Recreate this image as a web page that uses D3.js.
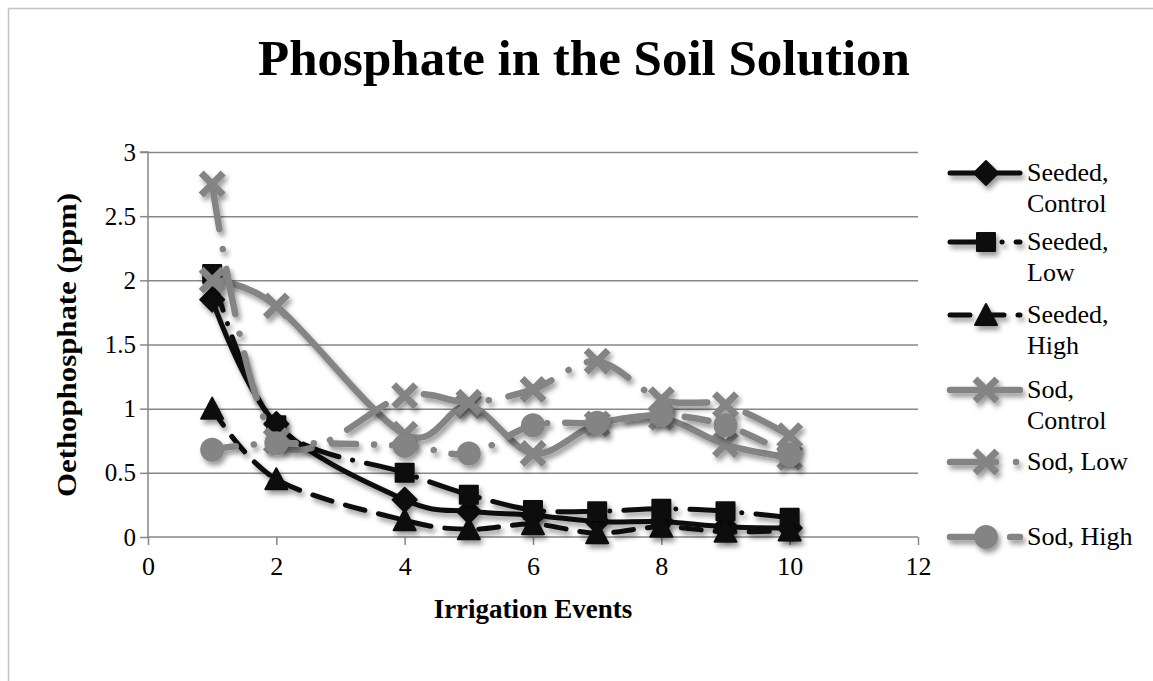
<!DOCTYPE html>
<html>
<head>
<meta charset="utf-8">
<script src="https://cdn.jsdelivr.net/npm/d3@7"></script>
<style>
  html, body { margin: 0; padding: 0; background: #fff; }
  svg { display: block; }
  text { font-family: "Liberation Serif", "Times New Roman", serif; fill: #000; }
</style>
</head>
<body>
<svg id="chart" width="1153" height="681"></svg>
<script>
// ---- data ----
const events = [1, 2, 4, 5, 6, 7, 8, 9, 10];
const seededControl = [1.85, 0.88, 0.29, 0.20, 0.17, 0.12, 0.12, 0.08, 0.07];
const seededLow     = [2.05, 0.87, 0.50, 0.33, 0.21, 0.20, 0.22, 0.20, 0.15];
const seededHigh    = [1.00, 0.45, 0.13, 0.06, 0.10, 0.03, 0.08, 0.04, 0.05];
const sodControl    = [2.00, 1.80, 0.80, 1.02, 0.65, 0.88, 0.93, 0.72, 0.62];
const sodLow        = [2.75, 0.75, 1.10, 1.05, 1.15, 1.37, 1.07, 1.03, 0.79];
const sodHigh       = [0.68, 0.73, 0.71, 0.65, 0.87, 0.89, 0.95, 0.87, 0.64];
const seriesNames = [["Seeded,", "Control"], ["Seeded,", "Low"], ["Seeded,", "High"],
                     ["Sod,", "Control"], ["Sod, Low"], ["Sod, High"]];
const xTicks = [0, 2, 4, 6, 8, 10, 12];
const yTicks = [0, 0.5, 1, 1.5, 2, 2.5, 3];
const titleText = "Phosphate in the Soil Solution";
const xTitle = "Irrigation Events";
const yTitle = "Oethophosphate (ppm)";

// ---- styles per series ----
const BLACK = "#0d0d0d", GRAY = "#848484";
const styles = [
  { values: seededControl, color: BLACK, width: 5, dash: null, marker: "diamond" },
  { values: seededLow,     color: BLACK, width: 5, dash: "38 14 0.1 14", marker: "square" },
  { values: seededHigh,    color: BLACK, width: 5, dash: "20 14", marker: "triangle" },
  { values: sodControl,    color: GRAY,  width: 6.5, dash: null, marker: "x" },
  { values: sodLow,        color: GRAY,  width: 6.5, dash: "46 20 0.1 20", marker: "x" },
  { values: sodHigh,       color: GRAY,  width: 6.5, dash: "24 18 0.1 18", marker: "circle" }
];

const svg = d3.select("#chart");
const defs = svg.append("defs");
const f = defs.append("filter").attr("id", "shadow")
  .attr("x", "-50%").attr("y", "-50%").attr("width", "200%").attr("height", "200%");
f.append("feDropShadow").attr("dx", 2.5).attr("dy", 4).attr("stdDeviation", 2.5)
  .attr("flood-color", "#000").attr("flood-opacity", 0.4);

// chart border
svg.append("rect").attr("x", 8.5).attr("y", 8.5).attr("width", 1170).attr("height", 700)
  .attr("fill", "none").attr("stroke", "#c4c4c4").attr("stroke-width", 1.5);

const x = d3.scaleLinear().domain([0, 12]).range([148, 918]);
const y = d3.scaleLinear().domain([0, 3]).range([537, 152]);

// gridlines
svg.append("g").attr("transform", `translate(${x(0)},0)`)
  .call(d3.axisLeft(y).tickValues(yTicks.slice(1)).tickSize(-(x(12) - x(0))).tickFormat(""))
  .call(g => g.select(".domain").remove())
  .call(g => g.selectAll("line").attr("stroke", "#878787").attr("stroke-width", 1.5));

// y axis
const ya = svg.append("g").attr("transform", `translate(${x(0)},0)`)
  .call(d3.axisLeft(y).tickValues(yTicks).tickSize(8).tickPadding(4).tickFormat(d => String(d)));
ya.select(".domain").attr("stroke", "#878787").attr("stroke-width", 1.5).attr("d", `M-8,${y(3)}H0V${y(0)}`);
ya.selectAll("line").attr("stroke", "#878787").attr("stroke-width", 1.5);
ya.selectAll("text").style("font-family", "Liberation Serif").style("font-size", "25px").attr("fill", "#000");

// x axis
const xa = svg.append("g").attr("transform", `translate(0,${y(0)})`)
  .call(d3.axisBottom(x).tickValues(xTicks).tickSize(8).tickPadding(12).tickFormat(d => String(d)));
xa.select(".domain").attr("stroke", "#878787").attr("stroke-width", 1.5).attr("d", `M${x(0)},0H${x(12)}`);
xa.selectAll("line").attr("stroke", "#878787").attr("stroke-width", 1.5);
xa.selectAll("text").style("font-family", "Liberation Serif").style("font-size", "26px").attr("fill", "#000");

// titles
svg.append("text").attr("x", 584).attr("y", 75).attr("text-anchor", "middle")
  .style("font-weight", "bold").style("font-size", "51px").text(titleText);
svg.append("text").attr("x", 533).attr("y", 618).attr("text-anchor", "middle")
  .style("font-weight", "bold").style("font-size", "27px").text(xTitle);
svg.append("text").attr("transform", `translate(76,345) rotate(-90)`).attr("text-anchor", "middle")
  .attr("textLength", 304).attr("lengthAdjust", "spacingAndGlyphs")
  .style("font-weight", "bold").style("font-size", "28px").text(yTitle);

// markers
function markerPath(type) {
  switch (type) {
    case "diamond": return "M0,-12L12,0L0,12L-12,0Z";
    case "square": return "M-9,-9H9V9H-9Z";
    case "triangle": return "M0,-11L11,10H-11Z";
    case "circle": return d3.symbol().type(d3.symbolCircle).size(Math.PI * 121)();
    case "x": return "M-11,-11L11,11M-11,11L11,-11";
  }
}
function drawMarker(g, type, color, cx, cy) {
  const p = g.append("path").attr("d", markerPath(type)).attr("transform", `translate(${cx},${cy})`);
  if (type === "x") p.attr("fill", "none").attr("stroke", color).attr("stroke-width", 7);
  else p.attr("fill", color).attr("stroke", color).attr("stroke-width", 2).attr("stroke-linejoin", "round");
}

const line = d3.line().x(d => x(d[0])).y(d => y(d[1])).curve(d3.curveCardinal.tension(0));

const plot = svg.append("g");
styles.forEach(s => {
  const g = plot.append("g").attr("filter", "url(#shadow)");
  const pts = events.map((e, i) => [e, s.values[i]]);
  g.append("path").attr("d", line(pts)).attr("fill", "none")
    .attr("stroke", s.color).attr("stroke-width", s.width)
    .attr("stroke-linecap", "round").attr("stroke-linejoin", "round")
    .attr("stroke-dasharray", s.dash);
  pts.forEach(p => drawMarker(g, s.marker, s.color, x(p[0]), y(p[1])));
});

// legend
const legendY = [173, 242, 315, 390, 462, 537];
const leg = svg.append("g");
styles.forEach((s, i) => {
  const g = leg.append("g").attr("filter", "url(#shadow)");
  g.append("line").attr("x1", 950).attr("x2", 1020).attr("y1", legendY[i]).attr("y2", legendY[i])
    .attr("stroke", s.color).attr("stroke-width", s.width).attr("stroke-linecap", "round")
    .attr("stroke-dasharray", s.dash);
  drawMarker(g, s.marker, s.color, 986, legendY[i]);
  const t = leg.append("text").attr("x", 1027).attr("y", legendY[i] + 8).style("font-size", "26px");
  seriesNames[i].forEach((ln, j) => t.append("tspan").attr("x", 1027).attr("dy", j === 0 ? 0 : 31).text(ln));
});
</script>
</body>
</html>
